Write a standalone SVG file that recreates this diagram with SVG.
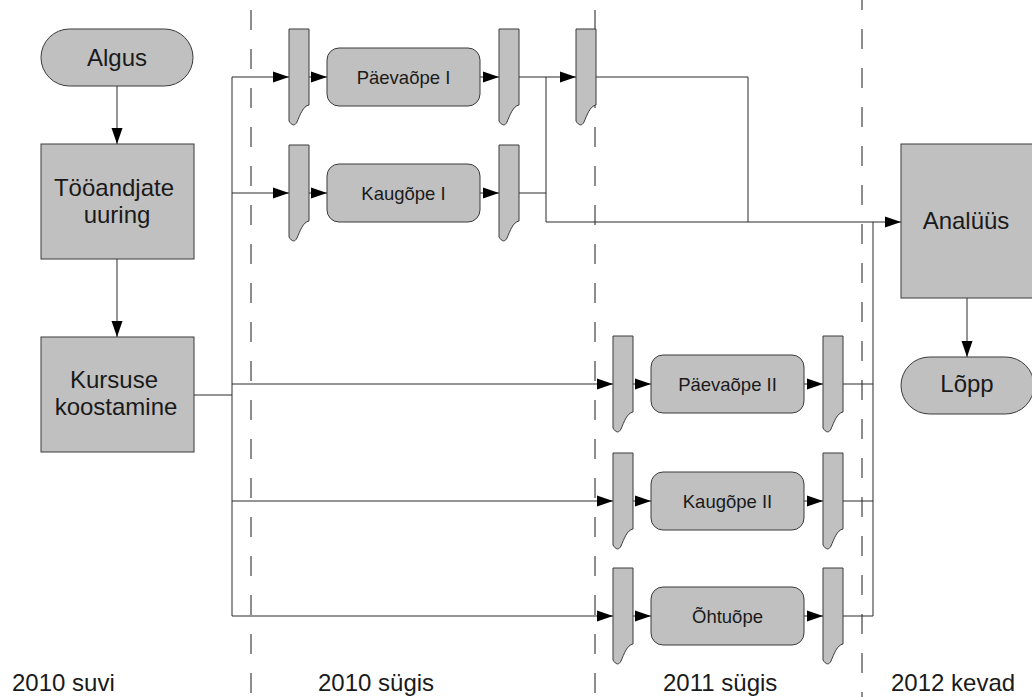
<svg xmlns="http://www.w3.org/2000/svg" xmlns:xlink="http://www.w3.org/1999/xlink" width="1032" height="697" viewBox="0 0 1032 697">
<style>
.box{fill:#c0c0c0;stroke:#3a3a3a;stroke-width:1}
.lbl{font-family:"Liberation Sans",Arial,sans-serif;font-size:24px;fill:#1a1a1a;text-anchor:middle}
.sm{font-family:"Liberation Sans",Arial,sans-serif;font-size:18.5px;fill:#1a1a1a;text-anchor:middle}
.per{font-family:"Liberation Sans",Arial,sans-serif;font-size:24px;fill:#1a1a1a}
.ln{fill:none;stroke:#2a2a2a;stroke-width:1}
.ar{marker-end:url(#ah)}
.dash{stroke:#1a1a1a;stroke-width:1;stroke-dasharray:20 19;stroke-dashoffset:29}
.dash2{stroke:#1a1a1a;stroke-width:1;stroke-dasharray:20 19;stroke-dashoffset:10}
</style>
<defs>
<marker id="ah" markerWidth="16" markerHeight="12" refX="16" refY="6" orient="auto" markerUnits="userSpaceOnUse">
<path d="M0,0.5 L16,6 L0,11.5 Z" fill="#000"/>
</marker>
<path id="bar" d="M0,0 H20 V76 C14,77 11,86 8,93 C6,97 3,97 0,92 Z" fill="#c0c0c0" stroke="#3a3a3a" stroke-width="1"/>
</defs>
<rect width="1032" height="697" fill="#fff"/>

<g id="lanes">
<line class="dash" x1="251" y1="0" x2="251" y2="697"/>
<line class="dash" x1="595" y1="0" x2="595" y2="697"/>
<line class="dash2" x1="862" y1="0" x2="862" y2="697"/>
</g>

<g id="connectors">
<path class="ln ar" d="M117,86 V144"/>
<path class="ln ar" d="M117,259 V337"/>
<path class="ln" d="M194,395 H232"/>
<path class="ln" d="M232,77 V616"/>
<path class="ln ar" d="M232,77 H289"/>
<path class="ln ar" d="M232,193 H289"/>
<path class="ln ar" d="M232,384 H613"/>
<path class="ln ar" d="M232,501 H613"/>
<path class="ln ar" d="M232,616 H613"/>
<path class="ln ar" d="M309,77 H327"/>
<path class="ln ar" d="M480,77 H499"/>
<path class="ln ar" d="M309,193 H327"/>
<path class="ln ar" d="M480,193 H499"/>
<path class="ln ar" d="M633,384 H651"/>
<path class="ln ar" d="M804,384 H823"/>
<path class="ln ar" d="M633,501 H651"/>
<path class="ln ar" d="M804,501 H823"/>
<path class="ln ar" d="M633,616 H651"/>
<path class="ln ar" d="M804,616 H823"/>
<path class="ln" d="M519,77 H546"/>
<path class="ln ar" d="M546,77 H576"/>
<path class="ln" d="M596,77 H748 V222"/>
<path class="ln" d="M519,193 H546"/>
<path class="ln" d="M546,77 V222"/>
<path class="ln ar" d="M546,222 H901"/>
<path class="ln" d="M843,384 H873"/>
<path class="ln" d="M843,501 H873"/>
<path class="ln" d="M843,616 H873"/>
<path class="ln" d="M873,222 V616"/>
<path class="ln ar" d="M967,298 V357"/>
</g>

<g id="algus">
<rect class="box" x="41" y="29" width="152" height="57" rx="28.5"/>
<text class="lbl" x="117" y="66">Algus</text>
</g>
<g id="tooandjate-uuring">
<rect class="box" x="41" y="144" width="153" height="115"/>
<text class="lbl" x="114" y="196">Tööandjate</text>
<text class="lbl" x="117" y="223">uuring</text>
</g>
<g id="kursuse-koostamine">
<rect class="box" x="41" y="337" width="153" height="115"/>
<text class="lbl" x="114" y="388">Kursuse</text>
<text class="lbl" x="116" y="415">koostamine</text>
</g>

<g id="paevaope-1">
<use xlink:href="#bar" x="289" y="29"/>
<rect class="box" x="327" y="48" width="153" height="58" rx="12"/>
<text class="sm" x="403.5" y="84">Päevaõpe I</text>
<use xlink:href="#bar" x="499" y="29"/>
</g>
<g id="join-1">
<use xlink:href="#bar" x="576" y="29"/>
</g>
<g id="kaugope-1">
<use xlink:href="#bar" x="289" y="145"/>
<rect class="box" x="327" y="164" width="153" height="58" rx="12"/>
<text class="sm" x="403.5" y="200">Kaugõpe I</text>
<use xlink:href="#bar" x="499" y="145"/>
</g>

<g id="paevaope-2">
<use xlink:href="#bar" x="613" y="336"/>
<rect class="box" x="651" y="355" width="153" height="58" rx="12"/>
<text class="sm" x="727.5" y="391">Päevaõpe II</text>
<use xlink:href="#bar" x="823" y="336"/>
</g>
<g id="kaugope-2">
<use xlink:href="#bar" x="613" y="453"/>
<rect class="box" x="651" y="472" width="153" height="58" rx="12"/>
<text class="sm" x="727.5" y="508">Kaugõpe II</text>
<use xlink:href="#bar" x="823" y="453"/>
</g>
<g id="ohtuope">
<use xlink:href="#bar" x="613" y="568"/>
<rect class="box" x="651" y="587" width="153" height="58" rx="12"/>
<text class="sm" x="727.5" y="623">Õhtuõpe</text>
<use xlink:href="#bar" x="823" y="568"/>
</g>

<g id="analyys">
<rect class="box" x="901" y="144" width="132" height="154"/>
<text class="lbl" x="966" y="229">Analüüs</text>
</g>
<g id="lopp">
<rect class="box" x="901" y="357" width="133" height="57" rx="28.5"/>
<text class="lbl" x="967" y="392">Lõpp</text>
</g>

<g id="periods">
<text class="per" x="12" y="691">2010 suvi</text>
<text class="per" x="318" y="691">2010 sügis</text>
<text class="per" x="663" y="691">2011 sügis</text>
<text class="per" x="891" y="691">2012 kevad</text>
</g>
</svg>
